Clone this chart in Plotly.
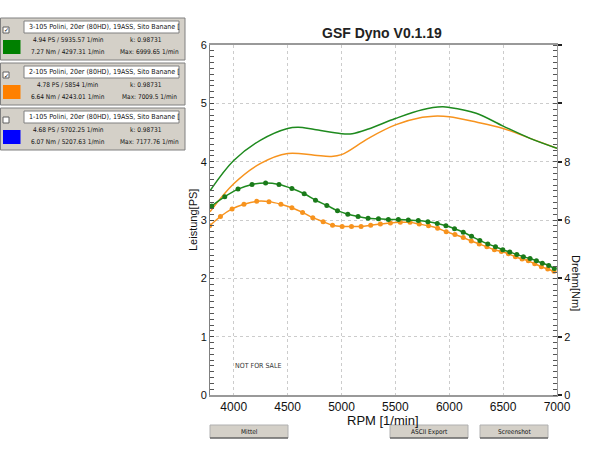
import plotly.graph_objects as go

# ---------------- data ----------------
rpm_power_green = [3780, 4000, 4250, 4500, 4600, 4750, 5000, 5100, 5250, 5500, 5750, 5935, 6000, 6250, 6500, 6750, 7000]
ps_green = [3.50, 4.02, 4.37, 4.57, 4.59, 4.55, 4.48, 4.48, 4.56, 4.74, 4.89, 4.94, 4.93, 4.83, 4.61, 4.40, 4.23]

rpm_power_orange = [3780, 4000, 4250, 4500, 4750, 4900, 5000, 5250, 5500, 5750, 5854, 6000, 6250, 6500, 6750, 7000]
ps_orange = [3.14, 3.62, 3.97, 4.14, 4.11, 4.09, 4.12, 4.40, 4.63, 4.76, 4.78, 4.77, 4.68, 4.57, 4.40, 4.23]

rpm_torque_green = [3796, 3917, 4040, 4170, 4296, 4420, 4540, 4654, 4759, 4864, 4963, 5059, 5154, 5247,
                    5343, 5435, 5528, 5620, 5713, 5802, 5889, 5969, 6049, 6130, 6207, 6284, 6358, 6429,
                    6497, 6562, 6627, 6688, 6750, 6809, 6864, 6923, 6975]
nm_green = [6.48, 6.80, 7.06, 7.22, 7.27, 7.22, 7.08, 6.90, 6.68, 6.50, 6.32, 6.20, 6.12, 6.06,
            6.04, 6.02, 6.02, 6.00, 5.98, 5.94, 5.88, 5.80, 5.70, 5.58, 5.44, 5.30, 5.18, 5.08,
            4.98, 4.90, 4.82, 4.74, 4.68, 4.60, 4.52, 4.44, 4.34]

rpm_torque_orange = [3778, 3877, 3985, 4095, 4213, 4327, 4438, 4540, 4639, 4734, 4830, 4917, 5006, 5093,
                     5182, 5271, 5361, 5454, 5546, 5636, 5722, 5808, 5892, 5972, 6053, 6130, 6204, 6278,
                     6349, 6419, 6484, 6549, 6614, 6676, 6734, 6793, 6855, 6914, 6972]
nm_orange = [5.80, 6.12, 6.38, 6.54, 6.64, 6.63, 6.54, 6.42, 6.26, 6.08, 5.94, 5.82, 5.78, 5.78,
             5.78, 5.82, 5.86, 5.90, 5.92, 5.92, 5.86, 5.80, 5.72, 5.60, 5.50, 5.40, 5.28, 5.18,
             5.08, 4.98, 4.92, 4.84, 4.74, 4.66, 4.60, 4.50, 4.40, 4.32, 4.24]

x_ticks = [4000, 4500, 5000, 5500, 6000, 6500, 7000]
y2_hidden_labels = {"10": "", "12": ""}

run_names = ["3-105 Polini, 20er (80HD), 19ASS, Sito Banane [",
             "2-105 Polini, 20er (80HD), 19ASS, Sito Banane [",
             "1-105 Polini, 20er (80HD), 19ASS, Sito Banane ["]
ps_texts = ["4.94 PS / 5935.57 1/min", "4.78 PS / 5854 1/min", "4.68 PS / 5702.25 1/min"]
nm_texts = ["7.27 Nm / 4297.31 1/min", "6.64 Nm / 4243.01 1/min", "6.07 Nm / 5207.63 1/min"]
k_texts = ["k: 0.98731", "k: 0.98731", "k: 0.98731"]
max_texts = ["Max: 6999.65 1/min", "Max: 7009.5 1/min", "Max: 7177.76 1/min"]
run_checked = [True, True, False]
run_colors = ["#008000", "#ff8000", "#0000ff"]
buttons = ["Mittel", "ASCII Export", "Screenshot"]

GREEN = "#1e8a1e"
ORANGE = "#f7931e"

# ------------- helpers (pixel -> paper) -------------
L, R, T, B = 210, 43, 45, 55
W, H = 600, 450
PW, PH = W - L - R, H - T - B


def px(x):
    return (x - L) / PW


def py(y):
    return (H - B - y) / PH


fig = go.Figure()

fig.add_trace(go.Scatter(x=rpm_power_orange, y=ps_orange, mode="lines",
                         line=dict(color=ORANGE, width=1.5, shape="spline", smoothing=1.0),
                         hoverinfo="skip"))
fig.add_trace(go.Scatter(x=rpm_power_green, y=ps_green, mode="lines",
                         line=dict(color=GREEN, width=1.5, shape="spline", smoothing=1.0),
                         hoverinfo="skip"))
fig.add_trace(go.Scatter(x=rpm_torque_orange, y=nm_orange, mode="lines+markers", yaxis="y2",
                         line=dict(color=ORANGE, width=1.5, shape="spline", smoothing=1.0),
                         marker=dict(color=ORANGE, size=5), hoverinfo="skip"))
fig.add_trace(go.Scatter(x=rpm_torque_green, y=nm_green, mode="lines+markers", yaxis="y2",
                         line=dict(color=GREEN, width=1.5, shape="spline", smoothing=1.0),
                         marker=dict(color="#1a7a1a", size=5), hoverinfo="skip"))

font_main = "Liberation Sans, Arial, sans-serif"
font_narrow = "Liberation Sans Narrow, Arial Narrow, DejaVu Sans Condensed, sans-serif"

shapes = []
annotations = []


def note(text, x, y, size, family=font_main, color="#111", xanchor="center", angle=0):
    annotations.append(dict(text=text, x=px(x), y=py(y), xref="paper", yref="paper",
                            xanchor=xanchor, yanchor="middle", showarrow=False, textangle=angle,
                            font=dict(family=family, size=size, color=color)))


# title and axis titles
note("<b>GSF Dyno V0.1.19</b>", 382, 33, 14, color="#222")
note("Leistung[PS]", 193, 220, 11, angle=-90)
note("Drehm[Nm]", 576, 283, 11, angle=90)
note("RPM [1/min]", 383, 420, 13)
note("NOT FOR SALE", 258, 366, 7, family=font_narrow, color="#333")

# run panels
for i, top in enumerate([18, 63, 108]):
    shapes.append(dict(type="rect", xref="paper", yref="paper", x0=px(0.5), x1=px(185),
                       y0=py(top), y1=py(top + 42), fillcolor="#d4d0c8",
                       line=dict(color="#808080", width=1), layer="below"))
    shapes.append(dict(type="rect", xref="paper", yref="paper", x0=px(24), x1=px(179),
                       y0=py(top + 3), y1=py(top + 15), fillcolor="white",
                       line=dict(color="#808080", width=1)))
    shapes.append(dict(type="rect", xref="paper", yref="paper", x0=px(3), x1=px(9),
                       y0=py(top + 9), y1=py(top + 15), fillcolor="white",
                       line=dict(color="#606060", width=1)))
    shapes.append(dict(type="rect", xref="paper", yref="paper", x0=px(3), x1=px(20.5),
                       y0=py(top + 22), y1=py(top + 36), fillcolor=run_colors[i],
                       line=dict(color=run_colors[i], width=0)))
    if run_checked[i]:
        note("✓", 6, top + 12, 6, family="DejaVu Sans", color="#000")
    note(run_names[i], 27, top + 9, 7, family=font_narrow, xanchor="left")
    note(ps_texts[i], 68, top + 22, 6.5, family=font_narrow)
    note(nm_texts[i], 68, top + 34, 6.5, family=font_narrow)
    note(k_texts[i], 146, top + 22, 6.5, family=font_narrow)
    note(max_texts[i], 149, top + 34, 6.5, family=font_narrow)

# buttons
for label, (x0, x1) in zip(buttons, [(210, 288), (390, 468), (480, 548)]):
    shapes.append(dict(type="rect", xref="paper", yref="paper", x0=px(x0), x1=px(x1),
                       y0=py(425), y1=py(438), fillcolor="#d4d0c8",
                       line=dict(color="#b0b0b0", width=1)))
    shapes.append(dict(type="line", xref="paper", yref="paper", x0=px(x0), x1=px(x1),
                       y0=py(438), y1=py(438), line=dict(color="#404040", width=1)))
    note(label, (x0 + x1) / 2, 431.5, 6.5, family=font_narrow)

fig.update_layout(
    width=W, height=H,
    margin=dict(l=L, r=R, t=T, b=B, autoexpand=False),
    paper_bgcolor="white", plot_bgcolor="white",
    showlegend=False,
    shapes=shapes, annotations=annotations,
    xaxis=dict(range=[3780, 7000], tickvals=x_ticks, ticks="", showgrid=True,
               gridcolor="#cccccc", griddash="dot", gridwidth=1,
               showline=True, linecolor="#999999", linewidth=1.5, mirror=True,
               tickfont=dict(family=font_main, size=12, color="#111"), zeroline=False),
    yaxis=dict(range=[0, 6], tickmode="linear", tick0=0, dtick=1,
               ticks="inside", ticklen=4, tickwidth=1, tickcolor="#444", showgrid=True,
               gridcolor="#cccccc", griddash="dot", gridwidth=1,
               showline=True, linecolor="#808080", linewidth=1,
               minor=dict(dtick=0.1, ticks="inside", ticklen=4, tickwidth=1,
                          tickcolor="#555", showgrid=False),
               tickfont=dict(family=font_main, size=11, color="#111"), zeroline=False),
    yaxis2=dict(range=[0, 12], tickmode="linear", tick0=0, dtick=2, labelalias=y2_hidden_labels,
                overlaying="y", side="right",
                ticks="outside", ticklen=4, tickwidth=1.5, tickcolor="#222", showgrid=False,
                showline=True, linecolor="#999999", linewidth=1,
                minor=dict(dtick=0.2, ticks="inside", ticklen=4, tickwidth=1,
                           tickcolor="#555", showgrid=False),
                tickfont=dict(family=font_main, size=11, color="#111"), zeroline=False),
)

fig.write_html("out.html", config={"displayModeBar": False},
               post_script="document.body.style.margin='0';")
